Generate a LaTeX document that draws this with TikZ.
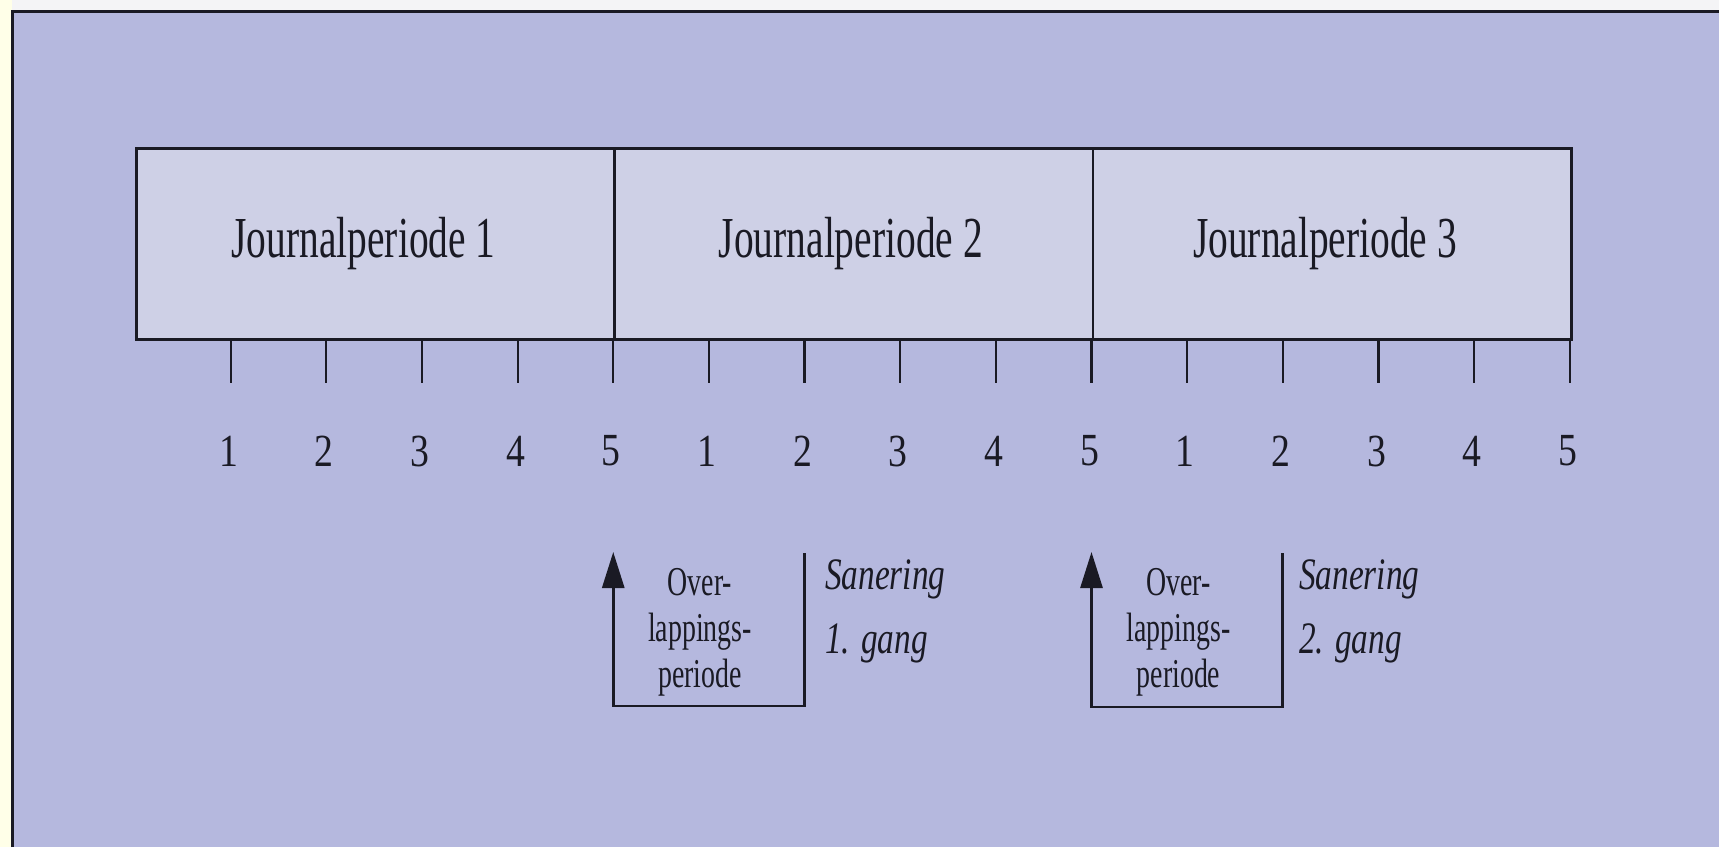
\documentclass[tikz,border=0pt]{standalone}
\usepackage{fontspec}
\setmainfont{Liberation Serif}
\usetikzlibrary{arrows.meta}
\definecolor{page}{HTML}{B5B8DE}
\definecolor{panel}{HTML}{CED0E6}
\definecolor{ink}{HTML}{1A1A24}
\definecolor{margin}{HTML}{FFFFE8}
\definecolor{topstrip}{HTML}{F4F4F6}
% condensed setting of a piece of text
\newcommand\narrow[2]{\scalebox{#1}[1]{#2}}

\begin{document}
\begin{tikzpicture}[x=1pt,y=-1pt,
  period/.style={draw=ink, fill=panel, line width=2.8pt, minimum width=478.3pt,
    minimum height=191pt, inner sep=0pt, anchor=north west},
  title/.style={text=ink, inner sep=0pt, font=\fontsize{58}{64}\selectfont},
  tickline/.style={draw=ink, line width=2.2pt},
  ticknum/.style={text=ink, inner sep=0pt, font=\fontsize{46}{50}\selectfont},
  bracket/.style={draw=ink, line width=2.8pt, -{Triangle[length=36pt,width=22pt]}},
  overlap/.style={text=ink, inner sep=0pt, anchor=base, font=\fontsize{41}{46}\selectfont},
  pass/.style={text=ink, inner sep=0pt, anchor=base west, font=\fontsize{45}{64}\selectfont\itshape},
]
\useasboundingbox (0,0) rectangle (1719,847);

% page background and frame
\fill[margin] (0,0) rectangle (12,847);
\fill[topstrip] (12,0) rectangle (1719,11);
\fill[page] (12,11) rectangle (1719,847);
\draw[ink, line width=3pt] (12,847) -- (12,11) -- (1719,11);

% the three journal periods
\node[period] (p1) at (135,147)    {};
\node[period] (p2) at (613.3,147)  {};
\node[period] (p3) at (1091.5,147) {};
\node[title] (p1t) at ([xshift=-12pt]p1.center) {\narrow{0.68}{Journalperiode 1}};
\node[title] (p2t) at ([xshift=-3pt]p2.center)  {\narrow{0.68}{Journalperiode 2}};
\node[title] (p3t) at ([xshift=-7pt]p3.center)  {\narrow{0.68}{Journalperiode 3}};

% ticks and their numbers
\foreach \k in {1,...,15} {
  \pgfmathtruncatemacro\d{mod(\k-1,5)+1}
  \coordinate (t\k) at ({135+95.65*\k},338);
  \coordinate (b\k) at ({135+95.65*\k},383);
  \draw[tickline] (t\k) -- (b\k);
  \node[ticknum] (n\k) at ({133+95.65*\k},451) {\narrow{0.82}{\d}};
}

% overlap brackets
\coordinate (o1r) at (t7 |- 0,553);
\coordinate (o1c) at (t7 |- 0,706);
\coordinate (o1b) at (t5 |- 0,706);
\coordinate (o1l) at (t5 |- 0,552);
\draw[bracket] (o1r) -- (o1c) -- (o1b) -- (o1l);

\coordinate (o2r) at (t12 |- 0,553);
\coordinate (o2c) at (t12 |- 0,707);
\coordinate (o2b) at (t10 |- 0,707);
\coordinate (o2l) at (t10 |- 0,552);
\draw[bracket] (o2r) -- (o2c) -- (o2b) -- (o2l);

% labels of the brackets
\node[overlap] (ov1) at (700,595)
  {\narrow{0.68}{\begin{tabular}[t]{@{}c@{}}Over-\\lappings-\\periode\end{tabular}}};
\node[overlap] (ov2) at (1178.5,595)
  {\narrow{0.68}{\begin{tabular}[t]{@{}c@{}}Over-\\lappings-\\periode\end{tabular}}};
\node[pass] (s1) at (825,589)
  {\narrow{0.74}{\begin{tabular}[t]{@{}l@{}}Sanering\\1. gang\end{tabular}}};
\node[pass] (s2) at (1299,589)
  {\narrow{0.74}{\begin{tabular}[t]{@{}l@{}}Sanering\\2. gang\end{tabular}}};
\end{tikzpicture}
\end{document}
